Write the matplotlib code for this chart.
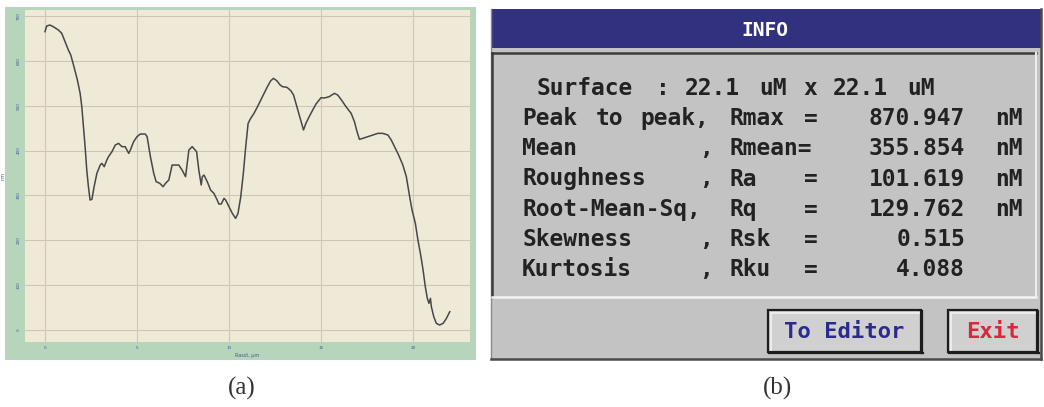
import re
import matplotlib
matplotlib.use("Agg")
import matplotlib.pyplot as plt
from matplotlib.patches import Rectangle

W, H = 1044, 407

# ---------------- data: (a) line profile ----------------
distance_um = [0.00, 0.09, 0.27, 0.45, 0.73, 0.91, 1.09, 1.27, 1.40, 1.55, 1.76, 1.91,
               2.00, 2.09, 2.18, 2.27, 2.36, 2.45, 2.55, 2.67, 2.82, 3.00, 3.09, 3.22,
               3.36, 3.45, 3.64, 3.82, 4.00, 4.18, 4.36, 4.55, 4.64, 4.82, 5.00, 5.18,
               5.45, 5.55, 5.73, 5.91, 6.04, 6.24, 6.42, 6.55, 6.73, 6.91, 7.27, 7.45,
               7.64, 7.73, 7.82, 8.00, 8.24, 8.36, 8.49, 8.55, 8.64, 8.82, 9.00, 9.18,
               9.36, 9.45, 9.58, 9.73, 9.82, 10.00, 10.18, 10.36, 10.49, 10.64, 10.78,
               10.91, 11.04, 11.18, 11.36, 11.55, 11.73, 11.91, 12.09, 12.27, 12.42,
               12.60, 12.78, 12.91, 13.15, 13.36, 13.51, 13.69, 13.87, 14.05, 14.18,
               14.36, 14.55, 14.73, 15.00, 15.18, 15.45, 15.73, 15.91, 16.09, 16.36,
               16.64, 16.82, 16.96, 17.09, 17.27, 17.55, 17.82, 18.09, 18.36, 18.64,
               18.82, 19.00, 19.22, 19.45, 19.64, 19.82, 19.95, 20.13, 20.27, 20.42,
               20.55, 20.67, 20.78, 20.87, 20.95, 21.00, 21.13, 21.27, 21.45, 21.64,
               21.82, 22.00]
height_nm = [665.1, 677.7, 679.9, 676.2, 668.8, 661.4, 642.8, 624.2, 613.1, 590.8, 557.3,
             527.6, 497.9, 453.3, 408.7, 356.7, 319.5, 289.8, 291.3, 319.5, 349.3, 367.8,
             371.6, 364.1, 379.0, 386.4, 397.6, 412.4, 416.1, 408.7, 408.7, 393.8, 401.3,
             419.9, 431.0, 436.9, 436.9, 431.0, 386.4, 349.3, 330.7, 327.0, 319.5, 327.0,
             334.4, 367.8, 367.8, 356.7, 341.8, 371.6, 401.3, 408.7, 397.6, 356.7, 323.3,
             341.8, 345.5, 330.7, 312.1, 304.7, 289.8, 280.9, 280.9, 293.5, 289.8, 274.9,
             260.1, 248.9, 260.1, 297.2, 349.3, 408.7, 460.7, 471.9, 483.0, 497.9, 512.7,
             527.6, 542.5, 555.8, 561.0, 555.8, 546.2, 542.5, 541.0, 533.6, 523.9, 497.9,
             471.9, 445.9, 460.7, 475.6, 490.4, 503.8, 517.9, 517.2, 520.2, 527.6, 523.9,
             514.2, 497.9, 483.0, 464.4, 442.1, 425.1, 427.3, 431.0, 434.7, 438.4, 438.4,
             434.7, 423.6, 408.7, 390.1, 367.8, 341.8, 297.2, 267.5, 237.8, 200.6, 167.2,
             133.8, 96.6, 70.6, 59.4, 70.6, 52.0, 29.7, 14.9, 11.1, 14.9, 26.0, 40.9]
x_ticks = [0, 5, 10, 15, 20]
y_ticks = [0, 100, 200, 300, 400, 500, 600, 700]
x_label = "Rasst, µm"
y_label = "nm"

# ---------------- data: (b) INFO dialog ----------------
dialog_title = "INFO"
surface_text = "Surface : 22.1 uM x 22.1 uM"
stat_names = ["Peak to peak", "Mean", "Roughness", "Root-Mean-Sq", "Skewness", "Kurtosis"]
stat_symbols = ["Rmax", "Rmean", "Ra", "Rq", "Rsk", "Rku"]
stat_values = ["870.947", "355.854", "101.619", "129.762", "0.515", "4.088"]
stat_units = ["nM", "nM", "nM", "nM", "", ""]
button_labels = ["To Editor", "Exit"]
button_colors = ["#2b2b8e", "#d8283a"]
captions = ["(a)", "(b)"]

fig = plt.figure(figsize=(W / 100, H / 100), dpi=100)
fig.patch.set_facecolor("white")

# background canvas in pixel coordinates
bg = fig.add_axes([0, 0, 1, 1], zorder=0)
bg.set_xlim(0, W)
bg.set_ylim(H, 0)
bg.axis("off")

# green frame of panel (a)
bg.add_patch(Rectangle((5, 7), 471, 353, facecolor="#b7d5bb", edgecolor="none"))

# ---------------- panel (a) ----------------
ax = fig.add_axes([25 / W, 1 - 342 / H, 445 / W, 332 / H], zorder=1)
ax.set_facecolor("#efe9d8")
ax.plot(distance_um, height_nm, color="#474747", lw=1.1)
ax.set_xlim(-1.087, 23.10)
ax.set_ylim(-26.7, 713.4)
ax.set_xticks(x_ticks)
ax.set_yticks(y_ticks)
ax.set_xticklabels([str(v) for v in x_ticks], fontsize=3, color="#3a5a9a")
ax.set_yticklabels([str(v) for v in y_ticks], fontsize=3, color="#3a5a9a", rotation=90,
                   va="center")
ax.tick_params(length=0, pad=3)
ax.grid(True, color="#cfc7b6", lw=0.8)
ax.set_axisbelow(True)
for s in ax.spines.values():
    s.set_visible(False)
ax.set_xlabel(x_label, fontsize=3.5, color="#3a5a9a", labelpad=2)
ax.set_ylabel(y_label, fontsize=3.5, color="#3a5a9a", labelpad=8)

# ---------------- panel (b): dialog ----------------
body = "#c3c3c3"
bg.add_patch(Rectangle((490.5, 9), 550, 350, facecolor=body, edgecolor="none"))
# outer border (dark right/bottom, light left)
bg.plot([490.5, 490.5], [9, 359], color="#8a8a8a", lw=1.0)
bg.plot([1040.5, 1040.5], [9, 359], color="#4a4a4a", lw=1.8)
bg.plot([490.5, 1040.5], [359, 359], color="#4a4a4a", lw=1.8)
# title bar
bg.add_patch(Rectangle((490.5, 9), 550, 39, facecolor="#31317f", edgecolor="none"))
bg.text(765, 30.5, dialog_title, color="white", fontsize=14, fontweight="bold",
        family="DejaVu Sans Mono", ha="center", va="center")
# inner sunken panel
bg.plot([492, 1036], [53, 53], color="#3c3c3c", lw=1.8)
bg.plot([492, 492], [53, 297], color="#3c3c3c", lw=1.8)
bg.plot([492, 1036], [297, 297], color="#f4f4f4", lw=1.8)
bg.plot([1036, 1036], [53, 297], color="#ececec", lw=1.5)

# text rows on a fixed character grid
col0_x = 522.0
col_w = 14.8
row_y0 = 86.7
row_dy = 30.2
lines = [" " + surface_text]
for name, sym, val, unit in zip(stat_names, stat_symbols, stat_values, stat_units):
    lines.append(f"{name:<12}, {sym:<5}={val:>10}  {unit}".rstrip())

num_re = re.compile(r"^[0-9.]+$")
for i, line in enumerate(lines):
    y = row_y0 + i * row_dy + 8.2
    for m in re.finditer(r"\S+", line):
        word = m.group(0)
        if num_re.match(word) and i > 0:
            xw, ha = col0_x + m.end() * col_w - 1, "right"
        elif len(word) == 1:
            xw, ha = col0_x + (m.start() + 0.5) * col_w, "center"
        else:
            xw, ha = col0_x + m.start() * col_w, "left"
        bg.text(xw, y, word, color="#222222", fontsize=16.5, fontweight="bold",
                family="DejaVu Sans Mono", ha=ha, va="baseline")

# buttons
btn_boxes = [(768, 310, 153, 42), (948, 310, 89, 42)]
for (bx, by, bw, bh), label, col in zip(btn_boxes, button_labels, button_colors):
    bg.add_patch(Rectangle((bx, by), bw, bh, facecolor="#d0d0d0", edgecolor="#1c1c1c",
                           lw=1.6))
    bg.plot([bx + 2.5, bx + bw - 2.5], [by + 2.5, by + 2.5], color="#f2f2f2", lw=1.2)
    bg.plot([bx + 2.5, bx + 2.5], [by + 2.5, by + bh - 2.5], color="#f2f2f2", lw=1.2)
    bg.plot([bx + 1, bx + bw + 1.5], [by + bh + 1, by + bh + 1], color="#1c1c1c", lw=1.6)
    bg.plot([bx + bw + 1.2, bx + bw + 1.2], [by + 1, by + bh + 1], color="#1c1c1c", lw=1.6)
    bg.text(bx + bw / 2, 338.5, label, color=col, fontsize=16, fontweight="bold",
            family="DejaVu Sans Mono", ha="center", va="baseline")

# captions
bg.text(242, 388, captions[0], fontsize=18, family="Liberation Serif", color="#333333",
        ha="center", va="center")
bg.text(777, 388, captions[1], fontsize=18, family="Liberation Serif", color="#333333",
        ha="center", va="center")

fig.savefig("out.png", dpi=100)
